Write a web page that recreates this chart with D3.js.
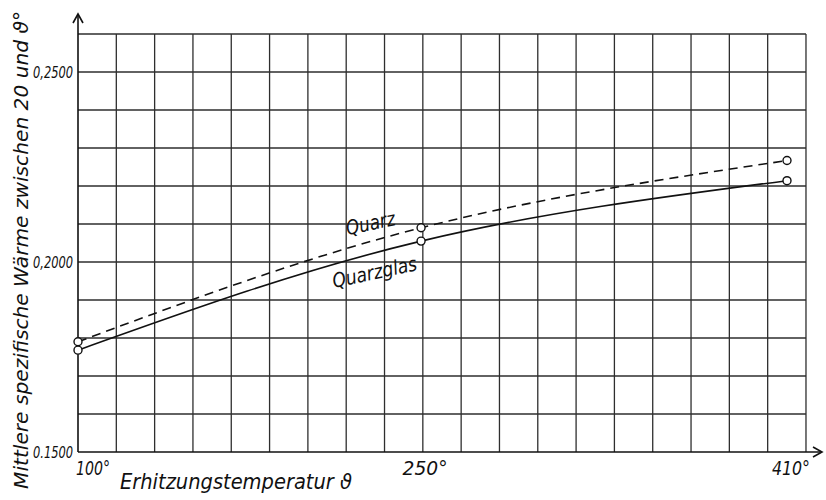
<!DOCTYPE html>
<html>
<head>
<meta charset="utf-8">
<script src="https://cdn.jsdelivr.net/npm/d3@7"></script>
<style>
  html, body { margin: 0; padding: 0; background: #fff; }
  svg text { font-family: "Liberation Sans Narrow", "DejaVu Sans Condensed", "Liberation Sans", sans-serif; font-style: italic; fill: #111; }
</style>
</head>
<body>
<svg id="chart" width="826" height="500"></svg>
<script>
// Mean specific heat between 20° and ϑ for quartz and quartz glass
const temperatures = [100, 250, 410];
const quarz = [0.1790, 0.2090, 0.2267];
const quarzglas = [0.1768, 0.2055, 0.2214];
const seriesNames = ["Quarz", "Quarzglas"];
const xTickValues = [100, 250, 410];
const xTickLabels = ["100°", "250°", "410°"];
const yTickValues = [0.15, 0.20, 0.25];
const yTickLabels = ["0.1500", "0,2000", "0,2500"];
const gridColumns = 19;     // squared paper columns
const gridRowStep = 0.01;   // value per paper row
const gridEndTemp = 418.3;  // right edge of the paper grid

const svg = d3.select("#chart");
svg.append("rect").attr("width", 826).attr("height", 500).attr("fill", "#fff");

const x = d3.scaleLinear().domain([100, 410]).range([78, 787]);
const y = d3.scaleLinear().domain([0.15, 0.26]).range([452, 34]);

const gx = d3.scaleLinear().domain([0, gridColumns]).range([x(100), x(gridEndTemp)]);
const rows = d3.range(0.15, 0.26 + 1e-9, gridRowStep);

// paper grid
const grid = svg.append("g").attr("stroke", "#2e2e2e").attr("stroke-width", 1.3).attr("fill", "none");
grid.selectAll("line.v").data(d3.range(1, gridColumns + 1)).join("line")
  .attr("x1", d => gx(d)).attr("x2", d => gx(d))
  .attr("y1", y(0.26)).attr("y2", y(0.15));
grid.selectAll("line.h").data(rows.slice(1)).join("line")
  .attr("x1", x(100)).attr("x2", gx(gridColumns))
  .attr("y1", d => y(d)).attr("y2", d => y(d));

// axes with open arrow heads
const axes = svg.append("g").attr("stroke", "#111").attr("stroke-width", 1.6).attr("fill", "none");
axes.append("line").attr("x1", x(100)).attr("x2", x(100)).attr("y1", y(0.15)).attr("y2", 14);
axes.append("path").attr("d", `M${x(100) - 5},${23} L${x(100)},${14} L${x(100) + 5},${23}`);
axes.append("line").attr("x1", x(100)).attr("x2", 822).attr("y1", y(0.15)).attr("y2", y(0.15));
axes.append("path").attr("d", `M${813},${y(0.15) - 5} L${822},${y(0.15)} L${813},${y(0.15) + 5}`);

// tick labels
svg.append("g").selectAll("text").data(yTickValues).join("text")
  .attr("x", 73).attr("y", d => y(d) + 6)
  .attr("text-anchor", "end").attr("font-size", 16)
  .attr("textLength", 40).attr("lengthAdjust", "spacingAndGlyphs")
  .text((d, i) => yTickLabels[i]);

const xLabelShift = [15, 4, 4];
const xLabelWidth = [34, 45, 38];
svg.append("g").selectAll("text").data(xTickValues).join("text")
  .attr("x", (d, i) => x(d) + xLabelShift[i])
  .attr("y", 475).attr("text-anchor", "middle").attr("font-size", 20)
  .attr("textLength", (d, i) => xLabelWidth[i]).attr("lengthAdjust", "spacingAndGlyphs")
  .text((d, i) => xTickLabels[i]);

// axis titles
svg.append("text")
  .attr("x", 120).attr("y", 489).attr("font-size", 21)
  .attr("textLength", 232).attr("lengthAdjust", "spacingAndGlyphs")
  .text("Erhitzungstemperatur ϑ");

svg.append("text")
  .attr("transform", "translate(28,250) rotate(-90)")
  .attr("text-anchor", "middle").attr("font-size", 19)
  .attr("textLength", 478).attr("lengthAdjust", "spacingAndGlyphs")
  .text("Mittlere spezifische Wärme zwischen 20 und ϑ°");

// curves
const line = d3.line().x(d => x(d[0])).y(d => y(d[1])).curve(d3.curveNatural);
const series = [
  { name: seriesNames[0], values: quarz, dash: "9,6" },
  { name: seriesNames[1], values: quarzglas, dash: null }
];
const curves = svg.append("g");
series.forEach(s => {
  const pts = temperatures.map((t, i) => [t, s.values[i]]);
  curves.append("path").attr("d", line(pts))
    .attr("fill", "none").attr("stroke", "#111").attr("stroke-width", 1.6)
    .attr("stroke-dasharray", s.dash);
  curves.selectAll(null).data(pts).join("circle")
    .attr("cx", d => x(d[0])).attr("cy", d => y(d[1])).attr("r", 4)
    .attr("fill", "#fff").attr("stroke", "#111").attr("stroke-width", 1.4);
});

// curve labels
svg.append("text")
  .attr("transform", "translate(372,230) rotate(-12)")
  .attr("text-anchor", "middle").attr("font-size", 20)
  .attr("textLength", 50).attr("lengthAdjust", "spacingAndGlyphs")
  .text(seriesNames[0]);
svg.append("text")
  .attr("transform", "translate(376,279) rotate(-12)")
  .attr("text-anchor", "middle").attr("font-size", 20)
  .attr("textLength", 86).attr("lengthAdjust", "spacingAndGlyphs")
  .text(seriesNames[1]);
</script>
</body>
</html>
